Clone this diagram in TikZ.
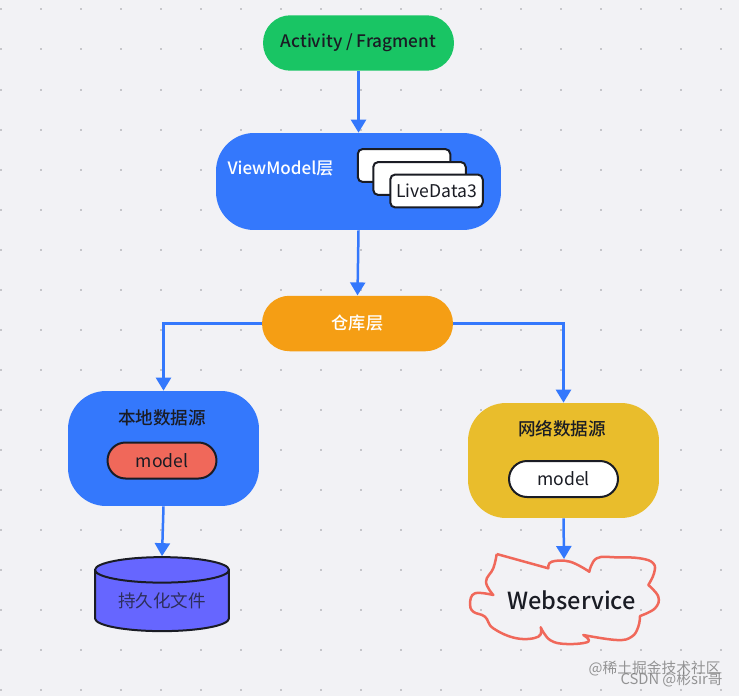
\documentclass[tikz,border=0pt]{standalone}
\usepackage{fontspec}
\setmainfont{Noto Sans CJK SC}
\newfontfamily\mediumfont{Noto Sans CJK SC Medium}
\usepackage{xcolor}
\usetikzlibrary{arrows.meta,shapes.geometric}
\definecolor{cpage}{HTML}{F2F2F5}
\definecolor{cdot}{HTML}{C6C6CA}
\definecolor{cgreen}{HTML}{19C564}
\definecolor{cblue}{HTML}{3478FC}
\definecolor{corange}{HTML}{F59E14}
\definecolor{cyellow}{HTML}{E9BD2C}
\definecolor{cred}{HTML}{F0685A}
\definecolor{cviolet}{HTML}{6666FF}
\definecolor{cink}{HTML}{1A1C24}
\tikzset{
  layer/.style={rounded corners=0.76cm,minimum width=3.82cm,minimum height=2.3cm,inner sep=0pt},
  pill/.style={rounded corners=0.55cm,minimum width=3.82cm,minimum height=1.11cm,inner sep=0pt,font=\fontsize{9.8}{12}\selectfont\mediumfont},
  chip/.style={draw=cink,line width=0.04cm,rounded corners=0.36cm,minimum width=2.18cm,minimum height=0.72cm,inner sep=0pt,text=cink,font=\fontsize{10}{12}\selectfont},
  card/.style={draw=cink,fill=white,line width=0.04cm,rounded corners=0.1cm,minimum width=1.85cm,minimum height=0.66cm,inner sep=0pt,text=cink,font=\fontsize{10}{12}\selectfont},
  caption/.style={inner sep=0pt,font=\fontsize{10}{12}\selectfont\mediumfont},
  link/.style={cblue,line width=0.05cm,-{Triangle[length=0.26cm,width=0.3cm]}},
  mark text/.style={inner sep=0pt,text=black!55,opacity=0.75,font=\fontsize{8.4}{10}\selectfont}
}
\begin{document}
\begin{tikzpicture}[x=0.02cm,y=-0.02cm]
  \useasboundingbox (0,0) rectangle (739,696);
  \fill[cpage] (0,0) rectangle (739,696);
  % dotted page
  \foreach \i in {0,...,18}
    \foreach \j in {0,...,17}
      \fill[cdot] ({40*\i-0.5},{8.5+40*\j}) rectangle ++(2,2);

  \node[pill,fill=cgreen,text=cink] (activity) at (358.5,43) {\raisebox{-1.6pt}{Activity / Fragment}};
  \node[layer,fill=cblue,minimum width=5.7cm,minimum height=1.94cm] (viewmodel) at (358.5,181.5) {};
  \node[caption,text=white,font=\fontsize{9.7}{12}\selectfont\mediumfont] (vmtext) at (280.5,168.5) {ViewModel层};
  \node[card] (card1) at (404,165.5) {};
  \node[card] (card2) at (419.5,178.5) {};
  \node[card] (card3) at (436.5,191) {LiveData3};
  \node[pill,fill=corange,text=white] (store) at (357.5,323.5) {\raisebox{-0.6pt}{仓库层}};

  \node[layer,fill=cblue] (local) at (163.5,448.5) {};
  \node[caption,text=cink] (localtext) at (162,418) {本地数据源};
  \node[chip,fill=cred] (localmodel) at (162,460.5) {model};
  \node[layer,fill=cyellow] (remote) at (563.5,460.5) {};
  \node[caption,text=cink] (remotetext) at (562,429) {网络数据源};
  \node[chip,fill=white] (remotemodel) at (563.5,479) {model};

  \node[cylinder,shape border rotate=90,aspect=0.29,draw=cink,fill=cviolet,line width=0.04cm,
    minimum width=2.68cm,minimum height=1.48cm,inner sep=0pt,text=cink!75!cviolet,
    font=\fontsize{10}{12}\selectfont] (files) at (162,601) {持久化文件};

  % cloud
  \draw[cred,line width=0.05cm,line join=round]
    plot[smooth,tension=0.6] coordinates {(496.7,554) (522,561) (548.3,568.3)}
    -- plot[smooth,tension=0.7] coordinates {(548.3,568.3) (551.7,561.7) (570,561.7) (589.3,571.7)}
    -- plot[smooth,tension=0.7] coordinates {(589.3,571.7) (596.7,558.3) (616.7,557.3) (640,558.3) (653.3,563.3) (654,573.3) (648.3,585)}
    -- plot[smooth,tension=0.7] coordinates {(648.3,585) (658.3,596.7) (655,608.3) (640,616)}
    -- plot[smooth,tension=0.7] coordinates {(640,616) (638.3,626.7) (631.7,636.7) (616.7,640) (583.3,635)}
    -- plot[smooth,tension=0.7] coordinates {(583.3,635) (588.3,641.7) (566.7,644) (550,640) (540.7,627.3)}
    -- plot[smooth,tension=0.7] coordinates {(540.7,627.3) (538.3,636.7) (516.7,638.3) (493.3,628.3) (485,616.7) (473.3,611.7) (470,603.3) (475,593.3) (493.3,595)}
    -- plot[smooth,tension=0.7] coordinates {(493.3,595) (486,581.7) (493.3,568.3) (496.7,554)};
  \node[inner sep=0pt,text=cink,font=\fontsize{13.4}{16}\selectfont\mediumfont] (webservice) at (571.5,600) {Webservice};
  \coordinate (cloudtop) at (564,559);

  \draw[link] (activity.south) -- (viewmodel.north);
  \draw[link] (viewmodel.south) -- (store.north);
  \draw[link] (store.west) -| (local.north);
  \draw[link] (store.east) -| (remote.north);
  \draw[link] (local.south) -- (files.north);
  \draw[link] (remote.south) -- (cloudtop);

  \node[mark text,anchor=east] (marka) at (721,668) {@稀土掘金技术社区};
  \node[mark text,anchor=east] (markb) at (723,679.5) {CSDN @彬sir哥};
\end{tikzpicture}
\end{document}
